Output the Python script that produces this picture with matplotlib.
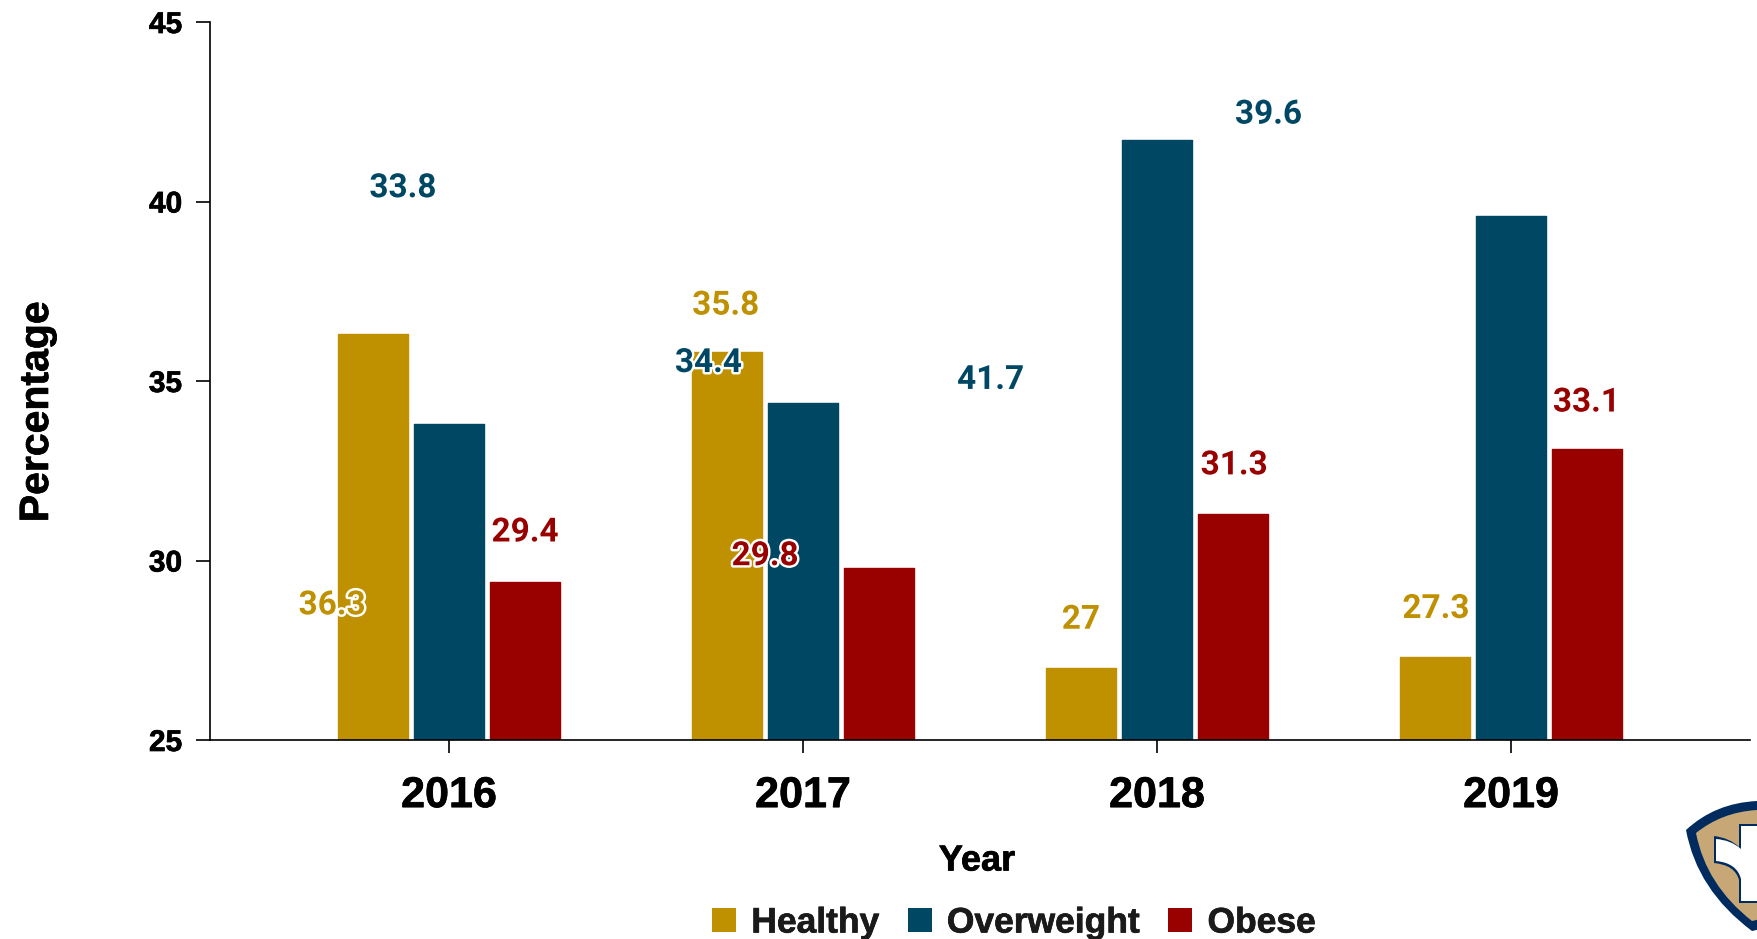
import matplotlib
matplotlib.use("Agg")
import matplotlib.pyplot as plt
import matplotlib.patheffects as pe
from matplotlib.patches import PathPatch, Patch
from matplotlib.path import Path

W, H = 1757, 939

years = ["2016", "2017", "2018", "2019"]
healthy = [36.3, 35.8, 27, 27.3]
overweight = [33.8, 34.4, 41.7, 39.6]
obese = [29.4, 29.8, 31.3, 33.1]

color_healthy = "#BF9000"
color_overweight = "#004764"
color_obese = "#990000"

# donde quedan las etiquetas en el original (estan movidas respecto a las barras)
label_x_healthy = [-0.33, 0.782, 1.785, 2.788]
label_y_healthy = [28.75, 37.1, 28.35, 28.65]
label_x_overweight = [-0.13, 0.733, 1.53, 2.315]
label_y_overweight = [40.37, 35.5, 35.03, 42.42]
label_x_obese = [0.215, 0.893, 2.218, 3.213]
label_y_obese = [30.78, 30.12, 32.65, 34.4]


def fx(px):
    return px / W


def fy(py):
    return 1 - py / H


fig = plt.figure(figsize=(W / 100, H / 100), dpi=100, facecolor="white")
ax = fig.add_axes([fx(210), fy(740), fx(1750) - fx(210), fy(22) - fy(740)])

step = 0.2147
width = 0.2
series = [(healthy, color_healthy), (overweight, color_overweight), (obese, color_obese)]
for i, (vals, col) in enumerate(series):
    xs = [k + (i - 1) * step for k in range(len(years))]
    ax.bar(xs, vals, width=width, color=col, edgecolor=col, linewidth=1.0,
           joinstyle="round", zorder=2)

ax.set_xlim(-0.675, 3.675)
ax.set_ylim(25, 45)
ax.set_yticks([25, 30, 35, 40, 45])
ax.set_xticks(range(len(years)))
ax.set_xticklabels(years)

for s in ["top", "right"]:
    ax.spines[s].set_visible(False)
for s in ["left", "bottom"]:
    ax.spines[s].set_linewidth(1.2)
    ax.spines[s].set_zorder(3)

ax.tick_params(axis="y", length=10, width=1.2, pad=10)
ax.tick_params(axis="x", length=18, width=1.2, direction="inout", pad=17)
heavy = [pe.withStroke(linewidth=0.5, foreground="black")]
for t in ax.get_yticklabels():
    t.set_fontfamily("Liberation Sans")
    t.set_fontweight("bold")
    t.set_fontsize(21.5)
    t.set_path_effects(heavy)
for t in ax.get_xticklabels():
    t.set_fontfamily("Liberation Sans")
    t.set_fontweight("bold")
    t.set_fontsize(31)
    t.set_path_effects(heavy)

# etiquetas de datos con borde blanco
groups = [
    (healthy, label_x_healthy, label_y_healthy, color_healthy),
    (overweight, label_x_overweight, label_y_overweight, color_overweight),
    (obese, label_x_obese, label_y_obese, color_obese),
]
for vals, lx, ly, col in groups:
    for v, x, y in zip(vals, lx, ly):
        ax.text(x, y, str(v), color=col, fontsize=24, fontweight="bold",
                family="Roboto", ha="center", va="center", zorder=5,
                path_effects=[pe.withStroke(linewidth=3.5, foreground="white")])

fig.text(fx(37), fy(412), "Percentage", rotation=90, ha="center", va="center",
         family="Liberation Sans", fontweight="bold", fontsize=29.5, path_effects=heavy)
fig.text(fx(977), fy(861), "Year", ha="center", va="center",
         family="Liberation Sans", fontweight="bold", fontsize=26, path_effects=heavy)

handles = [Patch(facecolor=color_healthy, label="Healthy"),
           Patch(facecolor=color_overweight, label="Overweight"),
           Patch(facecolor=color_obese, label="Obese")]
leg = fig.legend(handles=handles, loc="center", bbox_to_anchor=(fx(1014), fy(923)),
                 ncol=3, frameon=False, handlelength=0.68, handleheight=0.68,
                 handletextpad=0.43, columnspacing=0.8, borderpad=0,
                 prop={"family": "Liberation Sans", "weight": "bold", "size": 25.5})
for txt in leg.get_texts():
    txt.set_color("#1a1a1a")
    txt.set_path_effects([pe.withStroke(linewidth=0.5, foreground="#1a1a1a")])

# escudo de la esquina
def shield(points, codes, fc):
    verts = [(fx(a), fy(b)) for a, b in points]
    fig.add_artist(PathPatch(Path(verts, codes), facecolor=fc, edgecolor="none",
                             transform=fig.transFigure, clip_on=True))


C3 = Path.CURVE3
L = Path.LINETO
M = Path.MOVETO
shield([(1686, 830), (1715, 803), (1757, 801), (1765, 801), (1765, 928), (1752, 931),
        (1697, 890), (1686, 830)],
       [M, C3, C3, L, L, L, C3, C3], "#002B5F")
shield([(1696, 833), (1722, 812), (1757, 810), (1765, 810), (1765, 918), (1752, 921),
        (1706, 885), (1696, 833)],
       [M, C3, C3, L, L, L, C3, C3], "#C8A777")
shield([(1739, 824), (1765, 824), (1765, 903), (1739, 903), (1739, 880), (1735, 865),
        (1714, 863), (1714, 836), (1730, 838), (1739, 847), (1739, 824)],
       [M, L, L, L, L, C3, C3, L, C3, C3, L], "#002B5F")
shield([(1741, 826), (1765, 826), (1765, 901), (1741, 901), (1741, 879), (1737, 863),
        (1716, 861), (1716, 839), (1731, 840), (1741, 849), (1741, 826)],
       [M, L, L, L, L, C3, C3, L, C3, C3, L], "white")

fig.savefig("out.png", dpi=100)
